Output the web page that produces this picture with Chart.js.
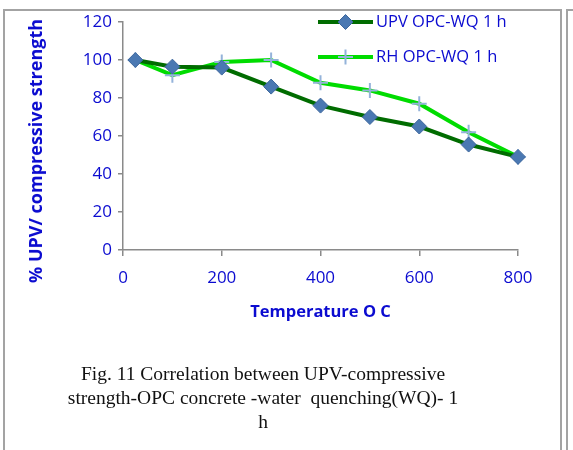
<!DOCTYPE html>
<html>
<head>
<meta charset="utf-8">
<script src="https://cdn.jsdelivr.net/npm/chart.js@4"></script>
<style>
  html, body { margin: 0; padding: 0; background: #fff; }
  #wrap { position: relative; width: 573px; height: 450px; overflow: hidden; }
  #frame { position: absolute; left: 3px; top: 9px; width: 559px; height: 460px; border: 2px solid #a3a3a3; box-sizing: border-box; }
  #frame2 { position: absolute; left: 566px; top: 9px; width: 20px; height: 460px; border: 2px solid #a3a3a3; box-sizing: border-box; }
  #c { position: absolute; left: 0; top: 0; }
  .cap { position: absolute; left: 0; width: 526px; text-align: center; font-family: "Liberation Serif", "Times New Roman", serif; font-size: 19.5px; color: #111; white-space: pre; line-height: 24px; }
  #ytitle { position: absolute; left: 35px; top: 151px; width: 0; height: 0; }
  #ytitle span { position: absolute; left: 0; top: 0; transform: translate(-50%, -50%) rotate(-90deg); white-space: nowrap; font-family: "Open Sans", "Liberation Sans", sans-serif; font-weight: bold; font-size: 18px; color: #0b0bd0; line-height: 22px; }
</style>
</head>
<body>
<div id="wrap">
  <div id="frame"></div>
  <div id="frame2"></div>
  <canvas id="c" width="573" height="450"></canvas>
  <div id="ytitle"><span id="ytitleText"></span></div>
  <div class="cap" style="top:362px;">Fig. 11 Correlation between UPV-compressive</div>
  <div class="cap" style="top:386px;">strength-OPC concrete -water  quenching(WQ)- 1</div>
  <div class="cap" style="top:410px;">h</div>
</div>
<script>
const temperatures = [25, 100, 200, 300, 400, 500, 600, 700, 800];
const upvValues = [100, 96.5, 96, 86, 76, 70, 65, 55.5, 49];
const rhValues  = [100, 92, 99, 100, 88, 84, 77, 62, 49];
const seriesLabels = ['UPV OPC-WQ 1 h', 'RH OPC-WQ 1 h'];
const xTicks = [0, 200, 400, 600, 800];
const yTicks = [0, 20, 40, 60, 80, 100, 120];
const xTitle = 'Temperature O C';
const yTitle = '% UPV/ compressive strength';

document.getElementById('ytitleText').textContent = yTitle;

const blue = '#0b0bd0';
const tickFont = { family: '"Open Sans", "Liberation Sans", sans-serif', size: 17 };
const xTitleFont = { family: '"Open Sans", "Liberation Sans", sans-serif', size: 16.5, weight: 'bold' };

const legendPlugin = {
  id: 'floatLegend',
  afterDraw(chart) {
    const ctx = chart.ctx;
    const items = chart.data.datasets;
    const x0 = 318, x1 = 373;
    const ys = [22, 57];
    items.forEach((ds, i) => {
      const y = ys[i];
      ctx.save();
      ctx.strokeStyle = ds.borderColor;
      ctx.lineWidth = ds.borderWidth;
      ctx.beginPath();
      ctx.moveTo(x0, y); ctx.lineTo(x1, y);
      ctx.stroke();
      ctx.restore();
      ctx.save();
      ctx.fillStyle = ds.pointBackgroundColor;
      ctx.strokeStyle = ds.pointBorderColor;
      ctx.lineWidth = ds.pointBorderWidth;
      Chart.helpers.drawPoint(ctx, {
        pointStyle: ds.pointStyle,
        radius: ds.pointRadius,
        borderWidth: ds.pointBorderWidth,
        rotation: 0
      }, (x0 + x1) / 2, y);
      ctx.restore();
      ctx.save();
      ctx.fillStyle = blue;
      ctx.font = '16.5px "Open Sans", "Liberation Sans", sans-serif';
      ctx.textBaseline = 'middle';
      ctx.textAlign = 'left';
      ctx.fillText(ds.label, x1 + 3, y);
      ctx.restore();
    });
  }
};

new Chart(document.getElementById('c'), {
  type: 'line',
  data: {
    datasets: [
      {
        label: seriesLabels[0],
        data: temperatures.map((t, i) => ({ x: t, y: upvValues[i] })),
        borderColor: '#006c00',
        borderWidth: 4,
        pointStyle: 'rectRot',
        pointRadius: 7.5,
        pointBackgroundColor: '#4a78b2',
        pointBorderColor: '#3c669c',
        pointBorderWidth: 1,
        tension: 0,
        clip: false
      },
      {
        label: seriesLabels[1],
        data: temperatures.map((t, i) => ({ x: t, y: rhValues[i] })),
        borderColor: '#00dc00',
        borderWidth: 4,
        pointStyle: 'cross',
        pointRadius: 7.5,
        pointBackgroundColor: '#94b3da',
        pointBorderColor: '#94b3da',
        pointBorderWidth: 2,
        tension: 0,
        clip: false
      }
    ]
  },
  options: {
    responsive: false,
    animation: false,
    layout: { padding: { left: 15, right: 55, top: 22, bottom: 128 } },
    plugins: { legend: { display: false }, tooltip: { enabled: false } },
    scales: {
      x: {
        type: 'linear',
        min: 0, max: 800,
        afterBuildTicks(s) { s.ticks = xTicks.map(v => ({ value: v })); },
        afterFit(s) { s.height = 72; },
        border: { display: true, color: '#8a8a8a', width: 1.5 },
        grid: { drawOnChartArea: false, drawTicks: true, tickLength: 6, color: '#8a8a8a', lineWidth: 1.5 },
        ticks: { color: blue, font: tickFont, padding: 12, maxRotation: 0 },
        title: { display: true, text: xTitle, color: blue, font: xTitleFont, padding: { top: 0, bottom: 0 } }
      },
      y: {
        min: 0, max: 120,
        afterBuildTicks(s) { s.ticks = yTicks.map(v => ({ value: v })); },
        afterFit(s) { s.width = 108; },
        border: { display: true, color: '#8a8a8a', width: 1.5 },
        grid: { drawOnChartArea: false, drawTicks: true, tickLength: 5, color: '#8a8a8a', lineWidth: 1.5 },
        ticks: { color: blue, font: tickFont, padding: 6 },
        title: { display: false }
      }
    }
  },
  plugins: [legendPlugin]
});
</script>
</body>
</html>
